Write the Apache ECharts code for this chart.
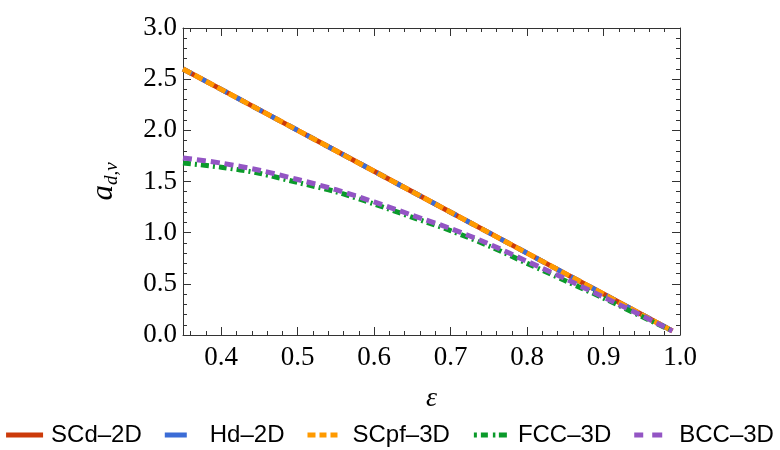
<!DOCTYPE html>
<html>
<head>
<meta charset="utf-8">
<script src="https://cdn.jsdelivr.net/npm/echarts@6/dist/echarts.min.js"></script>
<style>html,body{margin:0;padding:0;background:#fff}#c{width:780px;height:450px}</style>
</head>
<body>
<div id="c"></div>
<script>
// Data
const eps = [0.35, 0.40, 0.45, 0.50, 0.55, 0.60, 0.65, 0.70, 0.75, 0.80, 0.85, 0.90, 0.95, 0.99];
const scd2D  = [2.60, 2.40, 2.20, 2.00, 1.80, 1.60, 1.40, 1.20, 1.00, 0.80, 0.60, 0.40, 0.20, 0.04];
const hd2D   = [2.60, 2.40, 2.20, 2.00, 1.80, 1.60, 1.40, 1.20, 1.00, 0.80, 0.60, 0.40, 0.20, 0.04];
const scpf3D = [2.60, 2.40, 2.20, 2.00, 1.80, 1.60, 1.40, 1.20, 1.00, 0.80, 0.60, 0.40, 0.20, 0.04];
const fcc3D  = [1.68, 1.64, 1.58, 1.49, 1.40, 1.28, 1.15, 1.02, 0.87, 0.70, 0.53, 0.36, 0.18, 0.04];
const bcc3D  = [1.73, 1.68, 1.61, 1.52, 1.42, 1.30, 1.17, 1.04, 0.89, 0.72, 0.55, 0.37, 0.19, 0.04];
const seriesNames = ['SCd–2D', 'Hd–2D', 'SCpf–3D', 'FCC–3D', 'BCC–3D'];
const xMajor = [0.4, 0.5, 0.6, 0.7, 0.8, 0.9, 1.0];
const xMinor = [0.36, 0.38, 0.42, 0.44, 0.46, 0.48, 0.52, 0.54, 0.56, 0.58, 0.62, 0.64, 0.66, 0.68,
                0.72, 0.74, 0.76, 0.78, 0.82, 0.84, 0.86, 0.88, 0.92, 0.94, 0.96, 0.98];

const pairs = ys => eps.map((x, i) => [x, ys[i]]);
const axisCol = '#333';
const serif = 'Liberation Serif';

function xAx(pos, ticks, len, showLine, showLabel) {
  return {
    type: 'value', min: 0.35, max: 1.0, position: pos,
    axisLine: {show: showLine, onZero: false, lineStyle: {color: axisCol, width: 1}},
    axisTick: {show: true, inside: true, length: len, customValues: ticks, lineStyle: {color: axisCol}},
    axisLabel: showLabel ? {show: true, customValues: xMajor, formatter: v => v.toFixed(1),
      fontFamily: serif, fontSize: 27, color: '#000', margin: 9} : {show: false},
    splitLine: {show: false}
  };
}
function yAx(pos, showLabel) {
  return {
    type: 'value', min: 0, max: 3, interval: 0.5, position: pos,
    axisLine: {show: true, onZero: false, lineStyle: {color: axisCol, width: 1}},
    axisTick: {show: true, inside: true, length: 8, lineStyle: {color: axisCol}},
    minorTick: {show: true, splitNumber: 5, length: 4, lineStyle: {color: axisCol}},
    axisLabel: showLabel ? {show: true, formatter: v => v.toFixed(1),
      fontFamily: serif, fontSize: 27, color: '#000', margin: 6} : {show: false},
    splitLine: {show: false}, minorSplitLine: {show: false}
  };
}

const chart = echarts.init(document.getElementById('c'), null, {renderer: 'canvas'});
const xAxes = [xAx('bottom', xMajor, 8, true, true), xAx('bottom', xMinor, 4, false, false),
               xAx('top', xMajor, 8, true, false), xAx('top', xMinor, 4, false, false)];
xAxes[0].name = 'ε';
xAxes[0].nameLocation = 'middle';
xAxes[0].nameGap = 50;
xAxes[0].nameTextStyle = {fontFamily: serif, fontStyle: 'italic', fontSize: 28, color: '#000'};
const yAxes = [yAx('left', true), yAx('right', false)];
yAxes[0].name = '{a|a}{s|d,ν}';
yAxes[0].nameLocation = 'middle';
yAxes[0].nameGap = 62;
yAxes[0].nameRotate = 90;
yAxes[0].nameTextStyle = {
  rich: {
    a: {fontFamily: serif, fontStyle: 'italic', fontSize: 31, color: '#000', lineHeight: 34, verticalAlign: 'middle'},
    s: {fontFamily: serif, fontStyle: 'italic', fontSize: 19, color: '#000', lineHeight: 34, verticalAlign: 'bottom', padding: [14, 0, 0, 0]}
  }
};

const styles = [
  {color: '#CC3A0A', type: 'solid', width: 5},
  {color: '#3B6CD6', type: [10, 10], width: 5},
  {color: '#FF9A00', type: [9, 4], width: 5},
  {color: '#0A9A2A', type: [8, 4, 2, 4], width: 5},
  {color: '#9355C4', type: [9, 5], width: 5}
];
// legend sample glyphs (37 x 5 box; thin slivers keep the box size)
const sliver = 'M36.95,2.5h0.05v0.01h-0.05z M0,2.5h0.05v0.01h-0.05z';
const icons = [
  'path://M0,0h37v5h-37z',
  'path://M0,0h22v5h-22z ' + sliver,
  'path://M0,0h8v5h-8z M12,0h7v5h-7z M23,0h7v5h-7z ' + sliver,
  'path://M1,0h3v5h-3z M8,0h7v5h-7z M20,0h2.5v5h-2.5z M26,0h8v5h-8z ' + sliver,
  'path://M0,0h9v5h-9z M18,0h10v5h-10z ' + sliver
];
const dataSets = [scd2D, hd2D, scpf3D, fcc3D, bcc3D];

chart.setOption({
  animation: false,
  backgroundColor: '#fff',
  grid: {left: 183, right: 100, top: 28, bottom: 115, containLabel: false},
  legend: {
    bottom: -2, left: 'center', itemGap: 23, itemWidth: 37, itemHeight: 5,
    textStyle: {fontFamily: 'Liberation Sans', fontSize: 24, color: '#000', padding: [0, 0, 0, 3]},
    data: seriesNames.map((n, i) => ({name: n, icon: icons[i]}))
  },
  xAxis: xAxes,
  yAxis: yAxes,
  series: dataSets.map((d, i) => ({
    name: seriesNames[i], type: 'line', xAxisIndex: 0, yAxisIndex: 0,
    data: pairs(d), symbol: 'none', smooth: i >= 3 ? 0.3 : false,
    lineStyle: styles[i], itemStyle: {color: styles[i].color}, z: 2 + i
  }))
});
</script>
</body>
</html>
